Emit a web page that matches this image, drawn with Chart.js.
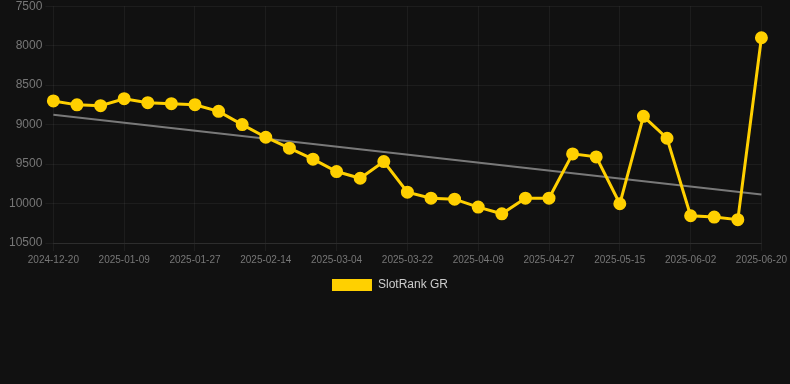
<!DOCTYPE html>
<html>
<head>
<meta charset="utf-8">
<script src="https://cdn.jsdelivr.net/npm/chart.js@4.4.1/dist/chart.umd.min.js"></script>
<style>
  html, body { margin: 0; padding: 0; background: #111111; overflow: hidden; }
  #wrap { position: relative; width: 790px; height: 305px; margin-top: -4px; }
</style>
</head>
<body>
<div id="wrap"><canvas id="c"></canvas></div>
<script>
const categories = [
  "2024-12-20","2024-12-27","2025-01-03","2025-01-09","2025-01-15","2025-01-21",
  "2025-01-27","2025-02-02","2025-02-08","2025-02-14","2025-02-20","2025-02-26",
  "2025-03-04","2025-03-10","2025-03-16","2025-03-22","2025-03-28","2025-04-03",
  "2025-04-09","2025-04-15","2025-04-21","2025-04-27","2025-05-03","2025-05-09",
  "2025-05-15","2025-05-21","2025-05-27","2025-06-02","2025-06-08","2025-06-14",
  "2025-06-20"
];
const rankValues = [
  8700, 8750, 8760, 8672, 8722, 8735,
  8748, 8832, 9000, 9160, 9299, 9438,
  9595, 9680, 9468, 9856, 9932, 9945,
  10045, 10130, 9932, 9932, 9371, 9409,
  10003, 8895, 9173, 10155, 10172, 10205,
  7900
];
const trendStart = 8874;
const trendEnd = 9885;
const yTicks = [7500, 8000, 8500, 9000, 9500, 10000, 10500];

const trendValues = categories.map((_, i) =>
  i === 0 ? trendStart : (i === categories.length - 1 ? trendEnd : null));

Chart.defaults.font.family = "'Liberation Sans', Arial, sans-serif";

new Chart(document.getElementById('c'), {
  type: 'line',
  data: {
    labels: categories,
    datasets: [
      {
        label: 'SlotRank GR',
        data: rankValues,
        borderColor: '#FFD000',
        backgroundColor: '#FFD000',
        borderWidth: 3,
        pointRadius: 5,
        pointHoverRadius: 5,
        pointBackgroundColor: '#FFD000',
        pointBorderColor: '#FFD000',
        tension: 0,
        order: 1
      },
      {
        label: 'trend',
        data: trendValues,
        borderColor: 'rgba(140,140,140,0.85)',
        borderWidth: 2,
        pointRadius: 0,
        spanGaps: true,
        fill: false,
        order: 2
      }
    ]
  },
  options: {
    responsive: true,
    maintainAspectRatio: false,
    animation: false,
    layout: { padding: { left: 6, right: 16, top: 0, bottom: 0 } },
    plugins: {
      legend: {
        position: 'bottom',
        labels: {
          color: '#cccccc',
          font: { size: 12 },
          boxWidth: 40,
          boxHeight: 12,
          filter: (item) => item.text !== 'trend',
          generateLabels: (chart) => Chart.defaults.plugins.legend.labels.generateLabels(chart)
            .map(l => Object.assign(l, { lineWidth: 0, strokeStyle: 'rgba(0,0,0,0)' }))
        }
      },
      tooltip: { enabled: false }
    },
    scales: {
      x: {
        type: 'category',
        offset: false,
        grid: { color: 'rgba(255,255,255,0.05)', tickLength: 8 },
        border: { color: 'rgba(255,255,255,0.08)' },
        ticks: {
          color: '#777777',
          font: { size: 10 },
          maxRotation: 0,
          autoSkip: false,
          callback: function(v, i) { return i % 3 === 0 ? categories[i] : null; }
        }
      },
      y: {
        reverse: true,
        min: yTicks[0],
        max: yTicks[yTicks.length - 1],
        afterBuildTicks: (axis) => { axis.ticks = yTicks.map(v => ({ value: v })); },
        grid: { color: 'rgba(255,255,255,0.05)', tickLength: 8 },
        border: { display: false },
        ticks: {
          color: '#777777',
          font: { size: 12 },
          callback: (v) => String(v)
        }
      }
    }
  }
});
</script>
</body>
</html>
